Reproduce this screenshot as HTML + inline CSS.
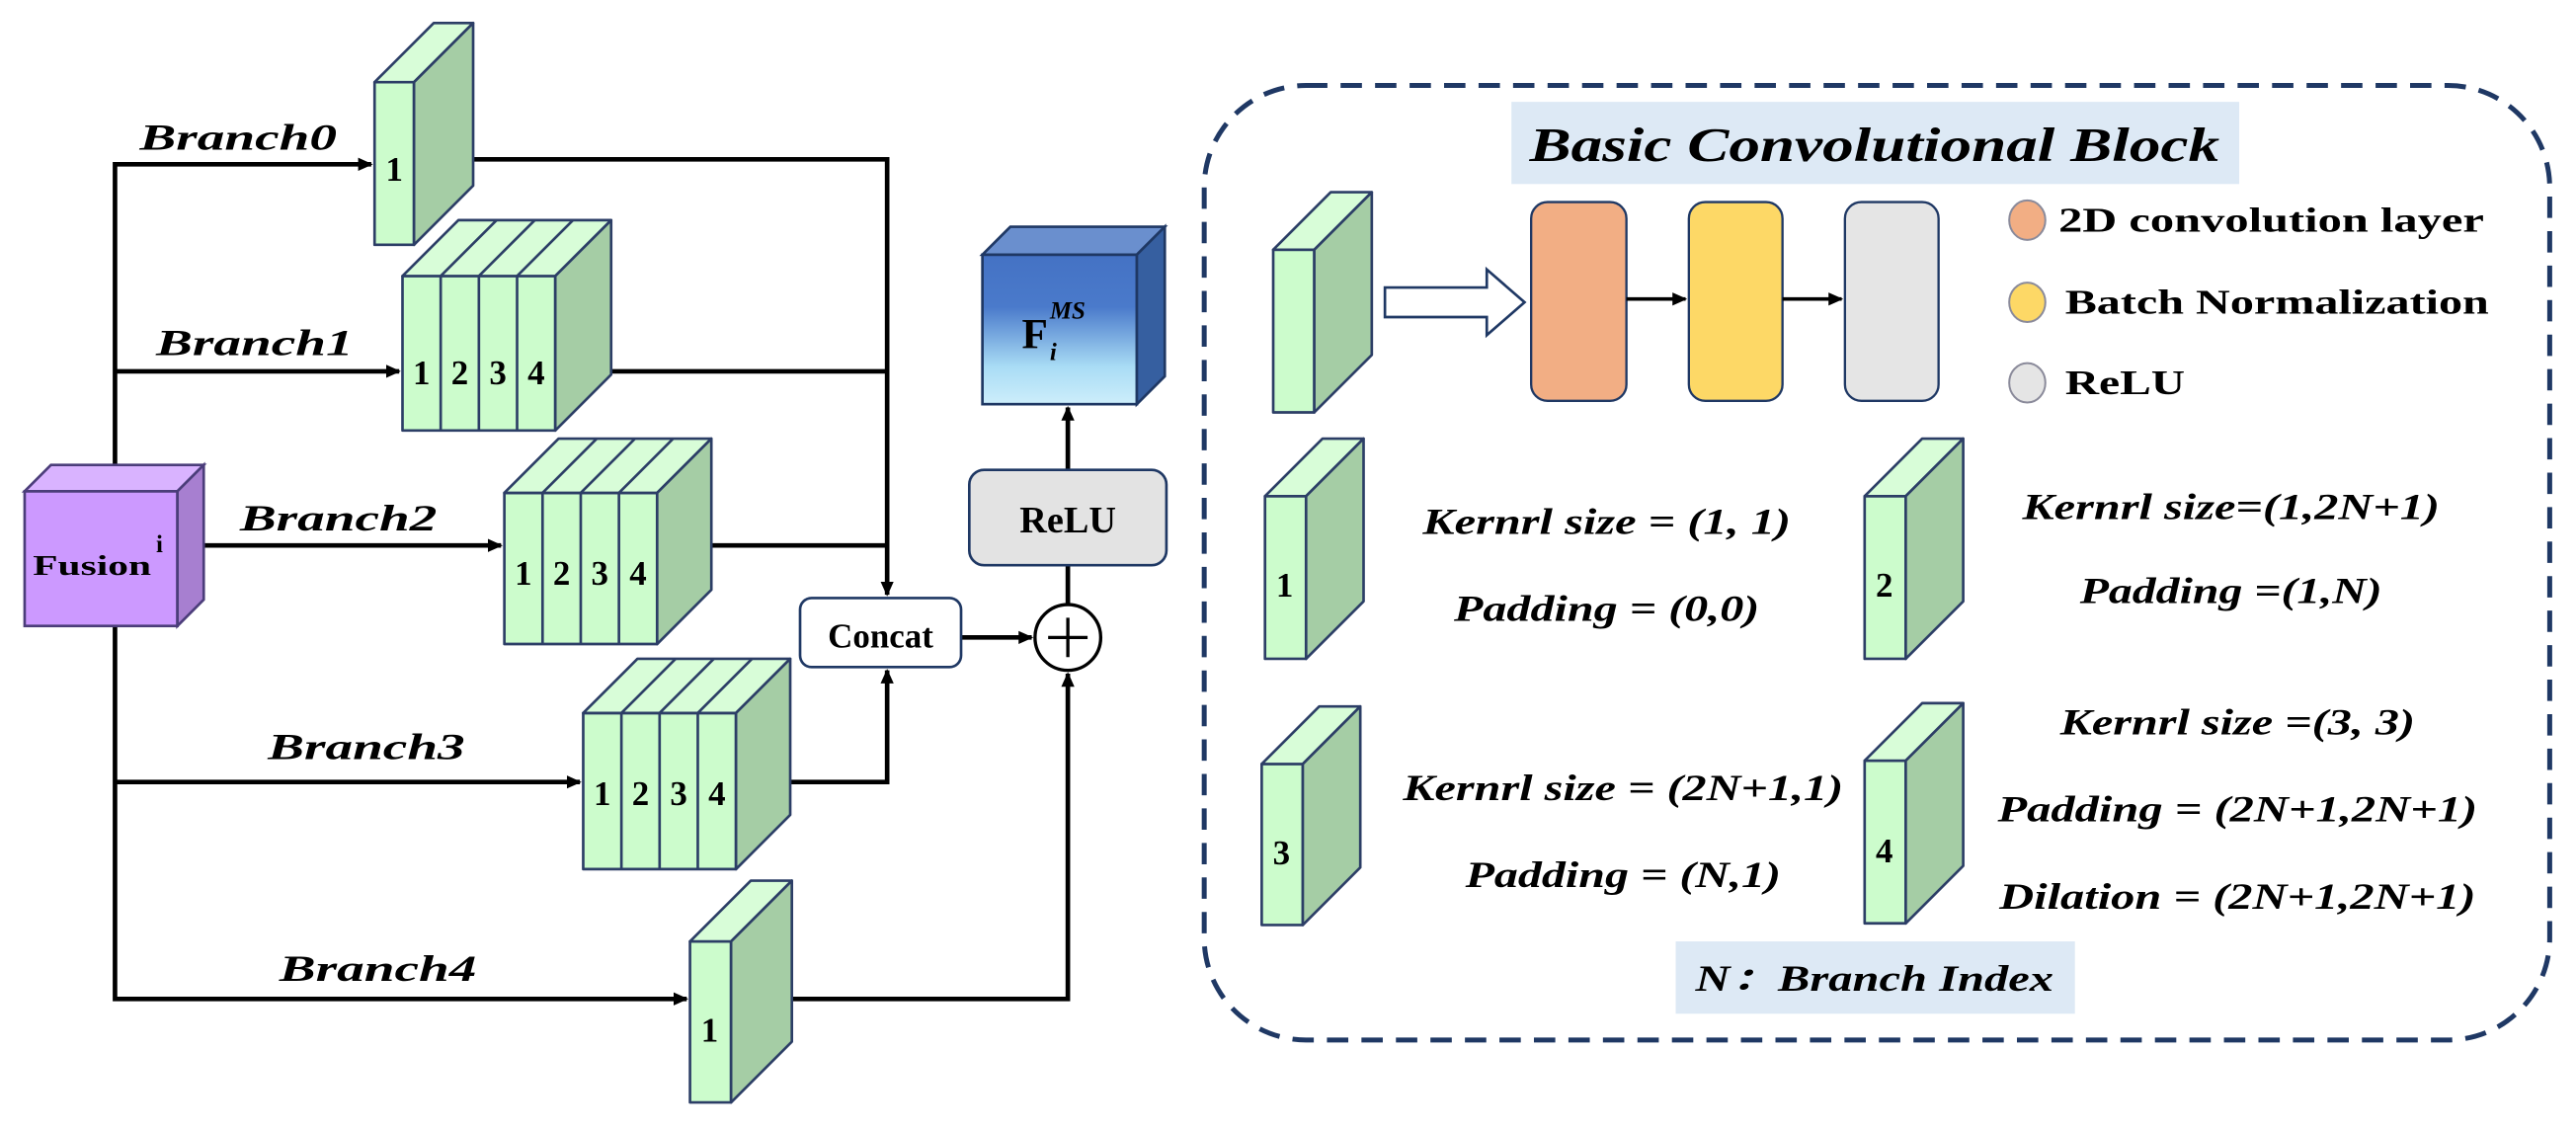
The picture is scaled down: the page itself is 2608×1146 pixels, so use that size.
<!DOCTYPE html>
<html><head><meta charset="utf-8"><style>html,body{margin:0;padding:0;background:#fff}svg{display:block}</style></head>
<body>
<svg width="2608" height="1146" viewBox="0 0 1568 689" preserveAspectRatio="none" xmlns="http://www.w3.org/2000/svg">
<defs>
<marker id="ah" markerWidth="10" markerHeight="10" refX="8" refY="5" orient="auto" markerUnits="userSpaceOnUse"><path d="M0,1 L9,5 L0,9 Z" fill="#000"/></marker>
<linearGradient id="fg" x1="0" y1="0" x2="0" y2="1"><stop offset="0" stop-color="#4472c4"/><stop offset="0.35" stop-color="#4a7acb"/><stop offset="0.75" stop-color="#a9dcf5"/><stop offset="1" stop-color="#cdeefb"/></linearGradient>
</defs>
<g font-family="'Liberation Serif',serif" font-weight="bold">

<!-- connectors -->
<g stroke="#000" stroke-width="2.8" fill="none">
<polyline points="70,283 70,608 418,608" marker-end="url(#ah)"/>
<polyline points="70,283 70,100 226,100" marker-end="url(#ah)"/>
<line x1="70" y1="226" x2="243" y2="226" marker-end="url(#ah)"/>
<line x1="124" y1="332" x2="305" y2="332" marker-end="url(#ah)"/>
<line x1="70" y1="476" x2="353" y2="476" marker-end="url(#ah)"/>
<polyline points="288,97 540,97 540,362" marker-end="url(#ah)"/>
<line x1="372" y1="226" x2="540" y2="226"/>
<line x1="433" y1="332" x2="540" y2="332"/>
<polyline points="481,476 540,476 540,408" marker-end="url(#ah)"/>
<line x1="585" y1="388" x2="628" y2="388" marker-end="url(#ah)"/>
<polyline points="482,608 650,608 650,410" marker-end="url(#ah)"/>
<line x1="650" y1="368" x2="650" y2="344"/>
<line x1="650" y1="286" x2="650" y2="248" marker-end="url(#ah)"/>
</g>

<!-- Branch labels -->
<g font-style="italic" font-size="22" fill="#000">
<text x="85" y="91" textLength="120" lengthAdjust="spacingAndGlyphs">Branch0</text>
<text x="95" y="216" textLength="120" lengthAdjust="spacingAndGlyphs">Branch1</text>
<text x="146" y="323" textLength="120" lengthAdjust="spacingAndGlyphs">Branch2</text>
<text x="163" y="462" textLength="120" lengthAdjust="spacingAndGlyphs">Branch3</text>
<text x="170" y="597" textLength="120" lengthAdjust="spacingAndGlyphs">Branch4</text>
</g>

<!-- blocks left -->
<g stroke="#2c3e66" stroke-width="1.6" stroke-linejoin="round">
<!-- B0 -->
<rect x="228" y="50" width="24" height="99" fill="#ccfccc"/>
<polygon points="228,50 264,14 288,14 252,50" fill="#d8fdd8"/>
<polygon points="252,50 288,14 288,113 252,149" fill="#a5cda5"/>
<!-- B1 -->
<rect x="245" y="168" width="93" height="94" fill="#ccfccc"/>
<polygon points="245,168 279,134 372,134 338,168" fill="#d8fdd8"/>
<polygon points="338,168 372,134 372,228 338,262" fill="#a5cda5"/>
<path d="M268.25,168V262M291.5,168V262M314.75,168V262M268.25,168L302.25,134M291.5,168L325.5,134M314.75,168L348.75,134" fill="none"/>
<!-- B2 -->
<rect x="307" y="300" width="93" height="92" fill="#ccfccc"/>
<polygon points="307,300 340,267 433,267 400,300" fill="#d8fdd8"/>
<polygon points="400,300 433,267 433,359 400,392" fill="#a5cda5"/>
<path d="M330.25,300V392M353.5,300V392M376.75,300V392M330.25,300L363.25,267M353.5,300L386.5,267M376.75,300L409.75,267" fill="none"/>
<!-- B3 -->
<rect x="355" y="434" width="93" height="95" fill="#ccfccc"/>
<polygon points="355,434 388,401 481,401 448,434" fill="#d8fdd8"/>
<polygon points="448,434 481,401 481,496 448,529" fill="#a5cda5"/>
<path d="M378.25,434V529M401.5,434V529M424.75,434V529M378.25,434L411.25,401M401.5,434L434.5,401M424.75,434L457.75,401" fill="none"/>
<!-- B4 -->
<rect x="420" y="573" width="25" height="98" fill="#ccfccc"/>
<polygon points="420,573 457,536 482,536 445,573" fill="#d8fdd8"/>
<polygon points="445,573 482,536 482,634 445,671" fill="#a5cda5"/>
</g>
<g font-size="21" fill="#000" text-anchor="middle">
<text x="240" y="110">1</text>
<text x="256.6" y="234">1</text><text x="279.9" y="234">2</text><text x="303.1" y="234">3</text><text x="326.4" y="234">4</text>
<text x="318.6" y="356">1</text><text x="341.9" y="356">2</text><text x="365.1" y="356">3</text><text x="388.4" y="356">4</text>
<text x="366.6" y="490">1</text><text x="389.9" y="490">2</text><text x="413.1" y="490">3</text><text x="436.4" y="490">4</text>
<text x="432" y="634">1</text>
</g>

<!-- Fusion -->
<g stroke="#4b3d7a" stroke-width="1.6">
<rect x="15" y="299" width="93" height="82" fill="#cc99ff"/>
<polygon points="15,299 31,283 124,283 108,299" fill="#d9b3ff"/>
<polygon points="108,299 124,283 124,365 108,381" fill="#a77fd0"/>
</g>
<text x="20" y="350" font-size="17" fill="#000" textLength="72" lengthAdjust="spacingAndGlyphs">Fusion</text>
<text x="95" y="336" font-size="15" fill="#000">i</text>

<!-- Concat -->
<rect x="487" y="364" width="98" height="42" rx="7" fill="#fff" stroke="#1f3864" stroke-width="1.6"/>
<text x="536" y="394" font-size="21" text-anchor="middle" fill="#000">Concat</text>
<!-- plus -->
<circle cx="650" cy="388" r="20" fill="#fff" stroke="#000" stroke-width="2"/>
<path d="M650,376V400M638,388H662" stroke="#000" stroke-width="2"/>
<!-- ReLU box -->
<rect x="590" y="286" width="120" height="58" rx="9" fill="#e3e3e3" stroke="#1f3864" stroke-width="1.6"/>
<text x="650" y="324" font-size="23" text-anchor="middle" fill="#000">ReLU</text>
<!-- F block -->
<g stroke="#1f3864" stroke-width="1.6">
<rect x="598" y="155" width="94" height="91" fill="url(#fg)"/>
<polygon points="598,155 615,138 709,138 692,155" fill="#6a8fce"/>
<polygon points="692,155 709,138 709,229 692,246" fill="#365fa0"/>
</g>
<text x="622" y="212" font-size="26" fill="#000">F</text>
<text x="639" y="219" font-size="15" font-style="italic" fill="#000">i</text>
<text x="639" y="194" font-size="15" font-style="italic" fill="#000">MS</text>

<!-- Right panel -->
<rect x="733" y="52" width="819" height="581" rx="62" fill="none" stroke="#1f3864" stroke-width="3" stroke-dasharray="13 8"/>
<rect x="920" y="62" width="443" height="50" fill="#dde9f5"/>
<text x="1141" y="98" font-size="29" font-style="italic" text-anchor="middle" fill="#000" textLength="420" lengthAdjust="spacingAndGlyphs">Basic Convolutional Block</text>

<g stroke="#2c3e66" stroke-width="1.6" stroke-linejoin="round">
<rect x="775" y="152" width="25" height="99" fill="#ccfccc"/>
<polygon points="775,152 810,117 835,117 800,152" fill="#d8fdd8"/>
<polygon points="800,152 835,117 835,216 800,251" fill="#a5cda5"/>

<rect x="770" y="302" width="25" height="99" fill="#ccfccc"/>
<polygon points="770,302 805,267 830,267 795,302" fill="#d8fdd8"/>
<polygon points="795,302 830,267 830,366 795,401" fill="#a5cda5"/>

<rect x="1135" y="302" width="25" height="99" fill="#ccfccc"/>
<polygon points="1135,302 1170,267 1195,267 1160,302" fill="#d8fdd8"/>
<polygon points="1160,302 1195,267 1195,366 1160,401" fill="#a5cda5"/>

<rect x="768" y="465" width="25" height="98" fill="#ccfccc"/>
<polygon points="768,465 803,430 828,430 793,465" fill="#d8fdd8"/>
<polygon points="793,465 828,430 828,528 793,563" fill="#a5cda5"/>

<rect x="1135" y="463" width="25" height="99" fill="#ccfccc"/>
<polygon points="1135,463 1170,428 1195,428 1160,463" fill="#d8fdd8"/>
<polygon points="1160,463 1195,428 1195,527 1160,562" fill="#a5cda5"/>
</g>
<g font-size="21" fill="#000" text-anchor="middle">
<text x="782" y="363">1</text><text x="1147" y="363">2</text><text x="780" y="526">3</text><text x="1147" y="525">4</text>
</g>

<!-- hollow arrow -->
<polygon points="843,175 905,175 905,164 928,184 905,204 905,193 843,193" fill="#fff" stroke="#1f3864" stroke-width="1.6"/>
<rect x="932" y="123" width="58" height="121" rx="10" fill="#f2ae84" stroke="#1f3864" stroke-width="1.4"/>
<rect x="1028" y="123" width="57" height="121" rx="10" fill="#fdd866" stroke="#1f3864" stroke-width="1.4"/>
<rect x="1123" y="123" width="57" height="121" rx="10" fill="#e5e5e5" stroke="#1f3864" stroke-width="1.4"/>
<g stroke="#000" stroke-width="2.2">
<line x1="990" y1="182" x2="1026" y2="182" marker-end="url(#ah)"/>
<line x1="1085" y1="182" x2="1121" y2="182" marker-end="url(#ah)"/>
</g>

<!-- legend -->
<ellipse cx="1234" cy="134" rx="11" ry="12" fill="#f2ae84" stroke="#8a8a9a" stroke-width="1.2"/>
<ellipse cx="1234" cy="184" rx="11" ry="12" fill="#fdd866" stroke="#8a8a9a" stroke-width="1.2"/>
<ellipse cx="1234" cy="233" rx="11" ry="12" fill="#e5e5e5" stroke="#8a8a9a" stroke-width="1.2"/>
<g font-size="21" fill="#000">
<text x="1253" y="141" textLength="259" lengthAdjust="spacingAndGlyphs">2D convolution layer</text>
<text x="1257" y="191" textLength="258" lengthAdjust="spacingAndGlyphs">Batch Normalization</text>
<text x="1257" y="240" textLength="73" lengthAdjust="spacingAndGlyphs">ReLU</text>
</g>

<g font-size="22" font-style="italic" fill="#000" text-anchor="middle">
<text x="978" y="325" textLength="224" lengthAdjust="spacingAndGlyphs">Kernrl size = (1, 1)</text>
<text x="978" y="378" textLength="186" lengthAdjust="spacingAndGlyphs">Padding = (0,0)</text>
<text x="1358" y="316" textLength="254" lengthAdjust="spacingAndGlyphs">Kernrl size=(1,2N+1)</text>
<text x="1358" y="367" textLength="184" lengthAdjust="spacingAndGlyphs">Padding =(1,N)</text>
<text x="988" y="487" textLength="268" lengthAdjust="spacingAndGlyphs">Kernrl size = (2N+1,1)</text>
<text x="988" y="540" textLength="192" lengthAdjust="spacingAndGlyphs">Padding = (N,1)</text>
<text x="1362" y="447" textLength="216" lengthAdjust="spacingAndGlyphs">Kernrl size =(3, 3)</text>
<text x="1362" y="500" textLength="292" lengthAdjust="spacingAndGlyphs">Padding = (2N+1,2N+1)</text>
<text x="1362" y="553" textLength="290" lengthAdjust="spacingAndGlyphs">Dilation = (2N+1,2N+1)</text>
</g>

<rect x="1020" y="573" width="243" height="44" fill="#dde9f5"/>
<text x="1141" y="603" font-size="22" font-style="italic" text-anchor="middle" fill="#000" font-family="'Liberation Serif','Noto Serif CJK SC',serif" textLength="218" lengthAdjust="spacingAndGlyphs">N：Branch Index</text>
</g>
</svg>
</body></html>
